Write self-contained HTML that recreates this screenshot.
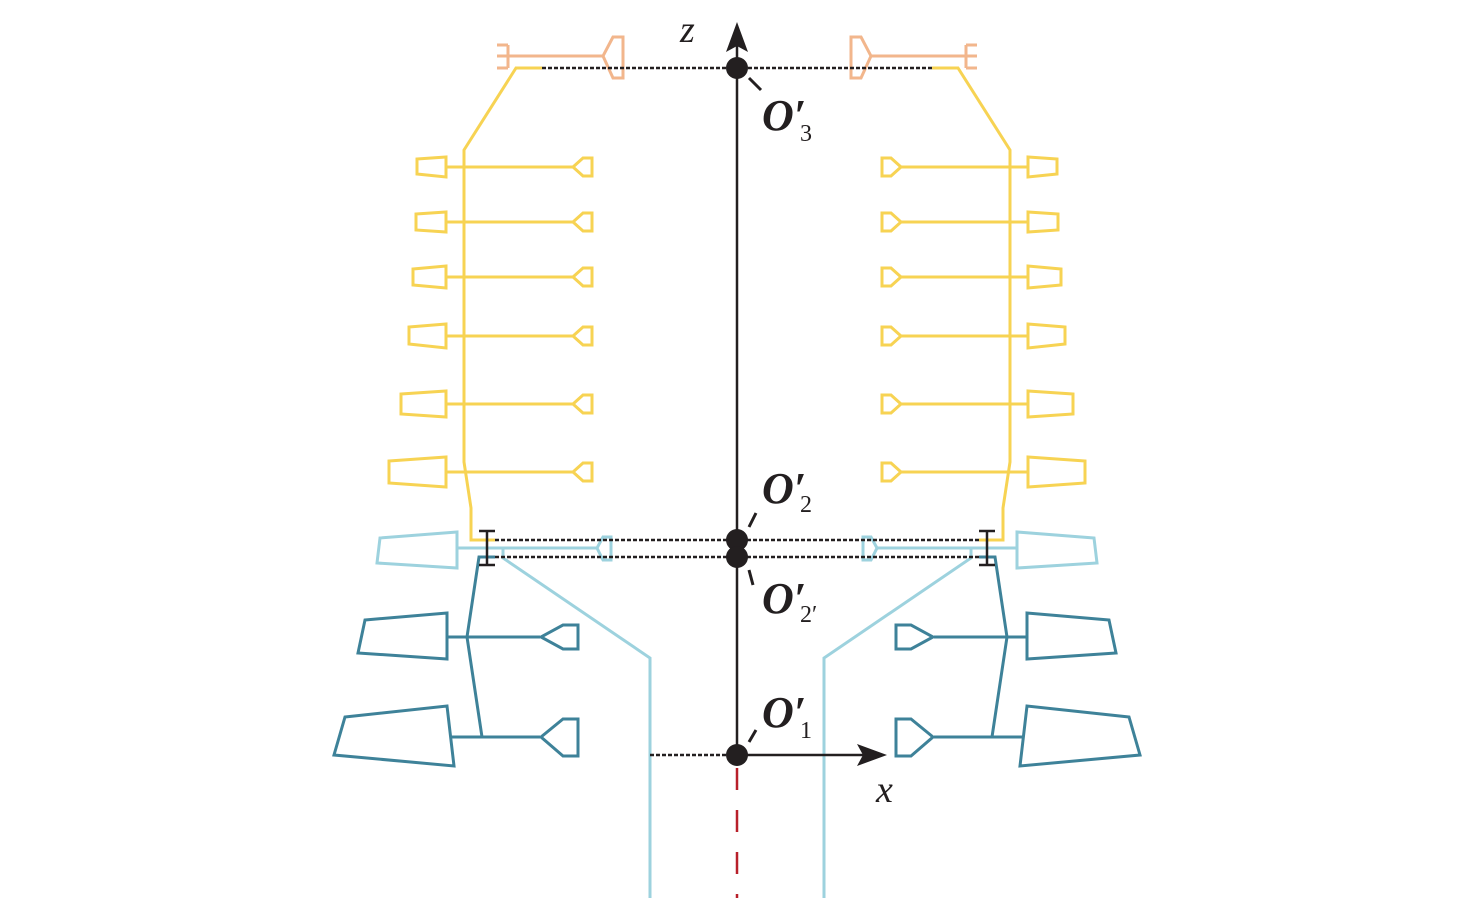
<!DOCTYPE html>
<html><head><meta charset="utf-8"><style>
html,body{margin:0;padding:0;background:#fff;}
svg{display:block;}
.lbl{font-family:"Liberation Serif",serif;font-style:italic;font-weight:bold;font-size:44px;fill:#231f20;}
.sub{font-family:"Liberation Serif",serif;font-size:24px;fill:#231f20;}
.ax{font-family:"Liberation Serif",serif;font-style:italic;font-size:38px;fill:#231f20;}
</style></head><body>
<svg width="1476" height="898" viewBox="0 0 1476 898" xmlns="http://www.w3.org/2000/svg">
<defs>
<g id="half" fill="none" stroke-width="3" stroke-linejoin="miter">
  <g stroke="#f2b68c">
    <path d="M508 56 H603 M613 37 L603 56 L613 78 H623 V37 Z"/>
    <path d="M508 45 V68 M497 45 H508 M497 56 H508 M497 68 H508"/>
  </g>
  <g stroke="#f7d353">
    <path d="M542 68 H516 L464 150 V462 L471 508 V540 H495"/>
    <path d="M446 167 H573 M592 158 V176 H583 L573 167 L583 158 Z M417 159 L446 157 V177 L417 174 Z"/>
    <path d="M446 222 H573 M592 213 V231 H583 L573 222 L583 213 Z M416 214 L446 212 V232 L416 230 Z"/>
    <path d="M446 277 H573 M592 268 V286 H583 L573 277 L583 268 Z M413 269 L446 266 V288 L413 285 Z"/>
    <path d="M446 336 H573 M592 327 V345 H583 L573 336 L583 327 Z M409 327 L446 324 V348 L409 344 Z"/>
    <path d="M446 404 H573 M592 395 V413 H583 L573 404 L583 395 Z M401 394 L446 391 V417 L401 414 Z"/>
    <path d="M446 472 H573 M592 463 V481 H583 L573 472 L583 463 Z M389 461 L446 457 V487 L389 483 Z"/>
  </g>
  <g stroke="#9dd2de">
    <path d="M380 538 L457 532 V568 L377 563 Z"/>
    <path d="M457 548 H598 M611 537 V560 H603 L597 548 L603 537 Z"/>
    <path d="M503 548 V558 L650 658 V898"/>
  </g>
  <g stroke="#3e8299">
    <path d="M495 557 H479 L467 637 L482 737"/>
    <path d="M447 637 H540 M578 625 V649 H563 L541 637 L563 625 Z M365 620 L447 613 V659 L358 653 Z"/>
    <path d="M452 737 H540 M578 719 V756 H563 L541 737 L563 719 Z M345 717 L447 706 L454 766 L334 755 Z"/>
  </g>
  <path d="M487 531 V565 M479 531 H495 M479 565 H495" stroke="#231f20" stroke-width="2.5"/>
  <g stroke="#231f20" stroke-width="2.5" stroke-dasharray="4 2">
    <path d="M542 68 H737 M495 540 H737 M495 557 H737"/>
  </g>
</g>
</defs>
<use href="#half"/>
<use href="#half" transform="translate(1474,0) scale(-1,1)"/>
<path d="M650 755 H737" stroke="#231f20" stroke-width="2.5" stroke-dasharray="4 2"/>
<path d="M737 755 V45" stroke="#231f20" stroke-width="2.5"/>
<path d="M737 22 L726 52 L737 46 L748 52 Z" fill="#231f20"/>
<path d="M737 755 H865" stroke="#231f20" stroke-width="2.5"/>
<path d="M887 755 L857 744 L863 755 L857 766 Z" fill="#231f20"/>
<path d="M737 768 V898" stroke="#b8202a" stroke-width="2.5" stroke-dasharray="22 20"/>
<g fill="#231f20">
<circle cx="737" cy="68" r="11"/><circle cx="737" cy="540" r="11"/><circle cx="737" cy="557" r="11"/><circle cx="737" cy="755" r="11"/>
</g>
<g stroke="#231f20" stroke-width="3">
<path d="M749 78 L761 90 M749 527 L756 513 M749 570 L753 585 M749 742 L756 730"/>
</g>
<text class="ax" x="680" y="42">z</text>
<text class="ax" x="876" y="802">x</text>
<text class="lbl" x="762" y="130">O′</text><text class="sub" x="800" y="141">3</text>
<text class="lbl" x="762" y="503">O′</text><text class="sub" x="800" y="512">2</text>
<text class="lbl" x="762" y="613">O′</text><text class="sub" x="800" y="622">2′</text>
<text class="lbl" x="762" y="727">O′</text><text class="sub" x="800" y="738">1</text>
</svg>
</body></html>
